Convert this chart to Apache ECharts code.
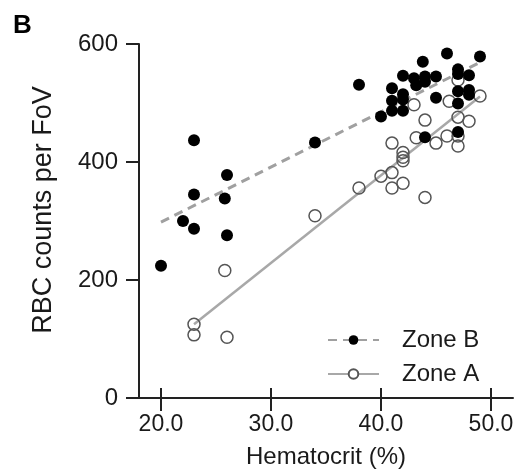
<!DOCTYPE html>
<html>
<head>
<meta charset="utf-8">
<script src="https://cdn.jsdelivr.net/npm/echarts@6/dist/echarts.min.js"></script>
<style>
html,body{margin:0;padding:0;background:#fff;}
#main{width:517px;height:474px;}
</style>
</head>
<body>
<div id="main"></div>
<script>
// Zone B (filled dots): hematocrit %, RBC count
var zoneB_x=[20,22,23,23,23,25.8,26,26,34,38,40,41,41,41,42,42,42,42,43,43.2,43.8,44,44,44,45,45,46,47,47,47,47,47,48,48,48,49];
var zoneB_y=[224,300,437,345,287,338,378,276,433,531,477,487,504,525,487,506,515,546,542,530,570,545,536,442,545,509,584,557,549,520,499,451,547,522,514,579];
// Zone A (open dots)
var zoneA_x=[23,23,25.8,26,34,38,40,41,41,41,42,42,42,42,43,43.2,44,44,45,46,46.2,47,47,47,47,48,49];
var zoneA_y=[125,107,216,103,309,356,376,382,356,432,364,416,408,402,497,441,471,340,432,444,503,539,476,444,427,469,512];
// fitted lines, end points
var fitB_x=[20,49];
var fitB_y=[298,569];
var fitA_x=[23,49];
var fitA_y=[125,511];
var xRange=[18,52];
var xTicks=[20,30,40,50];
var yTicks=[0,200,400,600];

function pairs(xs,ys){
	var out=[];
	for(var i=0;i<xs.length;i++){
		out.push([xs[i],ys[i]]);
	}
	return out;
}

var txt='#1a1a1a';
var ff='"Liberation Sans", Arial, sans-serif';
var axisCol='#222';
var tickLen=13;
// grid 0 holds the data (x 18..52), grid 1 only carries the x labels 20..50
var gLeft=139,gRight=4;
var pxPerUnit=(517-gLeft-gRight)/(xRange[1]-xRange[0]);
var tLeft=gLeft+(xTicks[0]-xRange[0])*pxPerUnit;
var tRight=gRight+(xRange[1]-xTicks[xTicks.length-1])*pxPerUnit;

// tick marks drawn through the data axes
function tickSeries(vals,dir){
	var d=[];
	for(var i=0;i<vals.length;i++){
		d.push(dir=='x'?[vals[i],0]:[xRange[0],vals[i]]);
	}
	return {
		type:'custom',coordinateSystem:'cartesian2d',xAxisIndex:0,yAxisIndex:0,
		silent:true,z:5,clip:false,data:d,
		renderItem:function(params,api){
			var p=api.coord([api.value(0),api.value(1)]);
			var s=dir=='x'?{x1:p[0],y1:p[1],x2:p[0],y2:p[1]+tickLen}:{x1:p[0]-tickLen,y1:p[1],x2:p[0],y2:p[1]};
			return {type:'line',shape:s,style:{stroke:axisCol,lineWidth:2}};
		}
	};
}

var tickStyle={show:true,length:tickLen,lineStyle:{color:axisCol,width:2}};

var myChart=echarts.init(document.getElementById('main'));
myChart.setOption({
	animation:false,
	backgroundColor:'#fff',
	title:{
		text:'B',left:8,top:8,
		textStyle:{fontFamily:ff,fontSize:26,fontWeight:'bold',color:'#000'}
	},
	grid:[
		{left:gLeft,right:gRight,top:44,bottom:76},
		{left:tLeft,right:tRight,top:44,bottom:76}
	],
	legend:{
		data:['Zone B','Zone A'],
		orient:'vertical',
		left:322,top:323,
		itemWidth:51,itemHeight:12,itemGap:10,
		textStyle:{fontFamily:ff,fontSize:24,color:txt,padding:[0,0,0,18]}
	},
	xAxis:[
		{
			gridIndex:0,type:'value',min:xRange[0],max:xRange[1],
			axisLine:{lineStyle:{color:axisCol,width:2}},
			axisTick:{show:false},axisLabel:{show:false},splitLine:{show:false}
		},
		{
			gridIndex:1,type:'value',min:xTicks[0],max:xTicks[xTicks.length-1],interval:10,
			name:'Hematocrit (%)',nameLocation:'middle',nameGap:57,
			nameTextStyle:{fontFamily:ff,fontSize:24,color:txt},
			axisLine:{show:false},
			axisTick:tickStyle,
			axisLabel:{fontFamily:ff,fontSize:23,color:txt,margin:25,
				formatter:function(v){return v.toFixed(1);}},
			splitLine:{show:false}
		}
	],
	yAxis:[
		{
			gridIndex:0,type:'value',min:0,max:600,interval:200,
			name:'RBC counts per FoV',nameLocation:'middle',nameGap:82,
			nameTextStyle:{fontFamily:ff,fontSize:27,color:txt,padding:[0,0,0,22]},
			axisLine:{show:true,lineStyle:{color:axisCol,width:2}},
			axisTick:tickStyle,
			axisLabel:{fontFamily:ff,fontSize:24,color:txt,margin:21},
			splitLine:{show:false}
		},
		{
			gridIndex:1,type:'value',min:0,max:600,show:false
		}
	],
	series:[
		{
			name:'Zone B',type:'line',data:pairs(fitB_x,fitB_y),
			symbol:'circle',symbolSize:11,showSymbol:false,z:1,
			itemStyle:{color:'#000'},
			lineStyle:{color:'#a0a0a0',width:3,type:[9,6]}
		},
		{
			name:'Zone A',type:'line',data:pairs(fitA_x,fitA_y),
			symbol:'circle',symbolSize:11,showSymbol:false,z:1,
			itemStyle:{color:'#fff',borderColor:'#555',borderWidth:1.5},
			lineStyle:{color:'#a8a8a8',width:2.5}
		},
		{
			name:'Zone A pts',type:'scatter',data:pairs(zoneA_x,zoneA_y),
			symbol:'circle',symbolSize:12,z:3,
			itemStyle:{color:'rgba(255,255,255,0)',borderColor:'#555',borderWidth:1.5,opacity:1}
		},
		{
			name:'Zone B pts',type:'scatter',data:pairs(zoneB_x,zoneB_y),
			symbol:'circle',symbolSize:12,z:4,
			itemStyle:{color:'#000',opacity:1}
		},
		tickSeries(xTicks,'x'),
		tickSeries(yTicks,'y')
	]
});
</script>
</body>
</html>
